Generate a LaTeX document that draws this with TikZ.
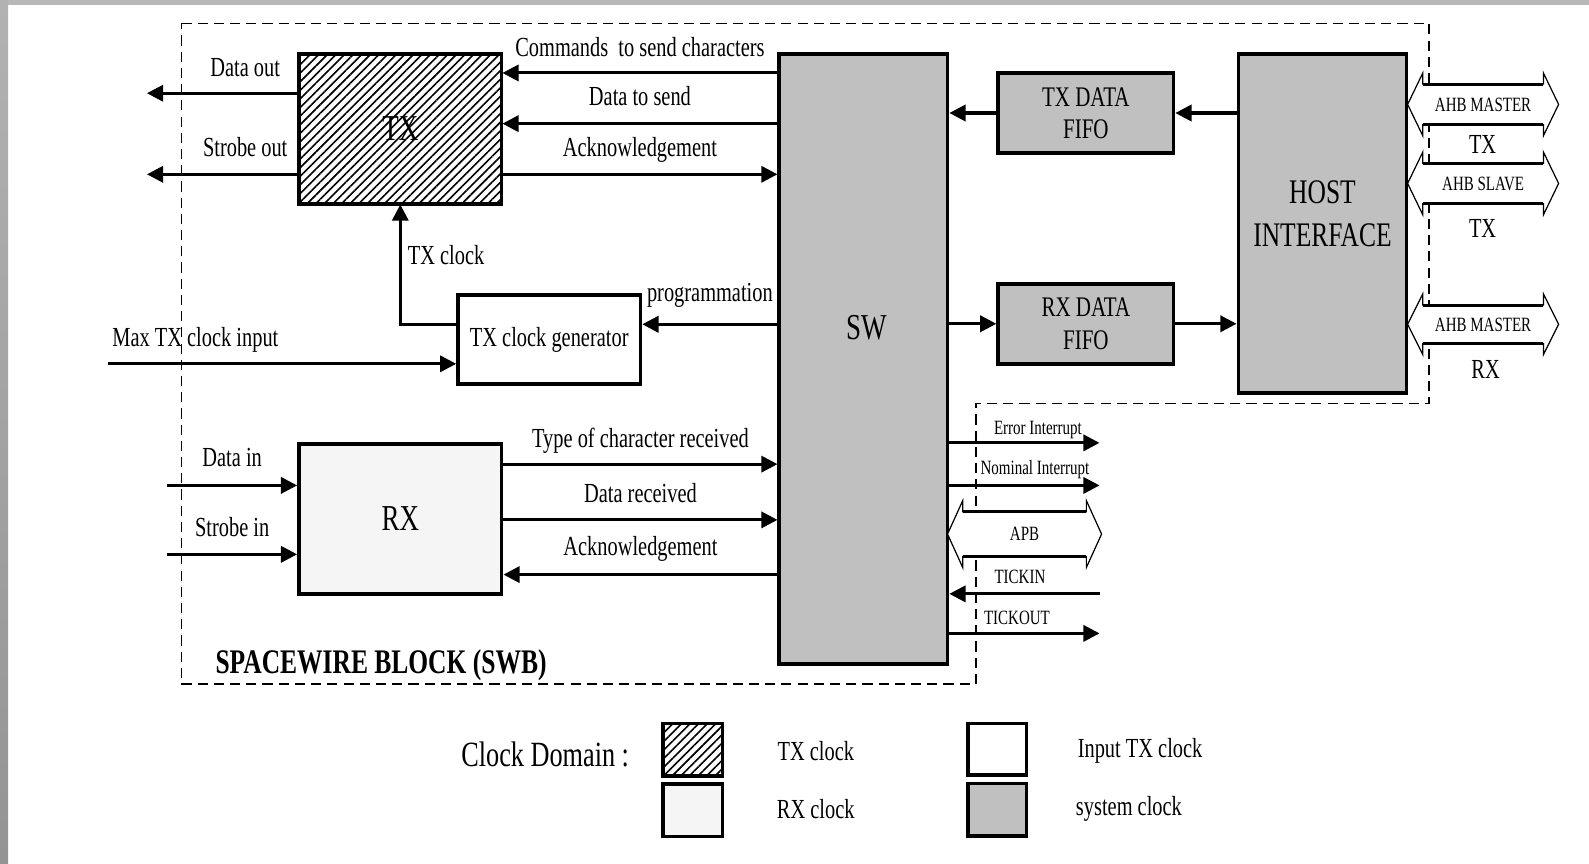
\documentclass[tikz,border=0pt]{standalone}
\usepackage{fontspec}
\setmainfont[FakeStretch=0.74]{Liberation Serif}
\usetikzlibrary{arrows.meta,positioning,patterns.meta}

\definecolor{sysgray}{RGB}{192,192,192}
\definecolor{framegray}{RGB}{184,184,184}

\begin{document}
\begin{tikzpicture}[x=0.5pt,y=-0.5pt,
  every node/.style={font=\fontsize{13.6}{16}\selectfont},
  blk/.style={draw,line width=1.8pt,inner sep=0pt},
  sysblk/.style={blk,fill=sysgray},
  txblk/.style={blk,pattern={Lines[angle=45,distance=3pt,line width=0.8pt]}},
  rxblk/.style={blk,fill=black!4},
  sig/.style={line width=1.5pt,-{Triangle[length=8pt,width=8pt]}},
  lbl/.style={inner sep=0pt,text depth=0pt},
  small/.style={lbl,font=\fontsize{10}{12}\selectfont},
  big/.style={font=\fontsize{18}{21}\selectfont},
  swb/.style={dash pattern=on 5pt off 3pt,line width=0.8pt},
  bus/.style={draw,line width=0.6pt,fill=white}]
  \useasboundingbox (0,0) rectangle (1568,852);
  \fill[framegray] (0,0) rectangle (1568,5);
  \shade[top color={rgb,255:red,178;green,178;blue,178},bottom color={rgb,255:red,148;green,148;blue,148}] (0,0) rectangle (8,852);

  % spacewire block outline
  \draw[swb] (179,23) -- (1410,23) -- (1410,398) -- (963,398) -- (963,675) -- (179,675) -- cycle;
  \node[font=\bfseries\fontsize{17}{20}\selectfont] (swbname) at (376,656) {SPACEWIRE BLOCK (SWB)};

  % blocks
  \node[txblk,big,minimum width=100pt,minimum height=74pt] (tx) at (395,127) {TX};
  \node[rxblk,big,minimum width=100pt,minimum height=74pt] (rx) at (395,512) {RX};
  \node[blk,fill=white,minimum width=90pt,minimum height=44pt] (gen) at (542,335) {TX clock generator};
  \node[sysblk,minimum width=83pt,minimum height=301pt] (sw) at (852,354) {};
  \node[big] (swtxt) at (855,323) {SW};
  \node[sysblk,align=center,font=\fontsize{14}{16}\selectfont,minimum width=86.5pt,minimum height=39.5pt] (txfifo) at (1071.5,111.5) {TX DATA\\FIFO};
  \node[sysblk,align=center,font=\fontsize{14}{16}\selectfont,minimum width=86.5pt,minimum height=39.5pt] (rxfifo) at (1071.5,319.5) {RX DATA\\FIFO};
  \node[sysblk,minimum width=83pt,minimum height=167.5pt] (host) at (1305,220.5) {};
  \node[align=center,font=\fontsize{17}{21}\selectfont] (hosttxt) at (1305,211) {HOST\\INTERFACE};

  % TX side
  \coordinate (dout) at (145,92);
  \coordinate (sout) at (145,172);
  \draw[sig] (tx.west |- dout) -- node[lbl,above=7.5pt,pos=0.35] (ldout) {Data out} (dout);
  \draw[sig] (tx.west |- sout) -- node[lbl,above=8pt,pos=0.35] (lsout) {Strobe out} (sout);
  \draw[sig] (sw.west |- 0,72) -- node[lbl,above=7.5pt] (lcmd) {Commands\ \ to send characters} (tx.east |- 0,72);
  \draw[sig] (sw.west |- 0,122) -- node[lbl,above=8pt] (lsend) {Data to send} (tx.east |- 0,122);
  \draw[sig] (tx.east |- 0,172) -- node[lbl,above=8pt] (lack) {Acknowledgement} (sw.west |- 0,172);
  \draw[sig] (gen.west |- 0,320) -| node[lbl,right=3pt,pos=0.79] (ltxclk) {TX clock} (tx.south);
  \draw[sig] (sw.west |- 0,320) -- node[lbl,above=10.5pt] (lprog) {programmation} (gen.east |- 0,320);
  \coordinate (maxin) at (107,359);
  \draw[sig] (maxin) -- node[lbl,above=8pt,pos=0.25] (lmax) {Max TX clock input} (gen.west |- maxin);

  % RX side
  \coordinate (din) at (165,479);
  \coordinate (sin) at (165,547);
  \draw[sig] (din) -- node[lbl,above=8.5pt] (ldin) {Data in} (rx.west |- din);
  \draw[sig] (sin) -- node[lbl,above=8pt] (lsin) {Strobe in} (rx.west |- sin);
  \draw[sig] (rx.east |- 0,458) -- node[lbl,above=7.5pt] (ltype) {Type of character received} (sw.west |- 0,458);
  \draw[sig] (rx.east |- 0,513) -- node[lbl,above=8pt] (lrecv) {Data received} (sw.west |- 0,513);
  \draw[sig] (sw.west |- 0,567) -- node[lbl,above=8.5pt] (lrxack) {Acknowledgement} (rx.east |- 0,567);

  % fifos
  \draw[sig] (txfifo.west) -- (sw.east |- txfifo.west);
  \draw[sig] (host.west |- txfifo.east) -- (txfifo.east);
  \draw[sig] (sw.east |- rxfifo.west) -- (rxfifo.west);
  \draw[sig] (rxfifo.east) -- (host.west |- rxfifo.east);

  % interrupts and ticks
  \coordinate (errout) at (1085,437);
  \coordinate (nomout) at (1085,479);
  \coordinate (tickin) at (1085,586);
  \coordinate (tickout) at (1085,625);
  \draw[sig] (sw.east |- errout) -- node[small,above=3.5pt,pos=0.59] (lerr) {Error Interrupt} (errout);
  \draw[sig] (sw.east |- nomout) -- node[small,above=4.5pt,pos=0.57] (lnom) {Nominal Interrupt} (nomout);
  \draw[sig] (tickin) -- node[small,above=4.5pt,pos=0.53] (ltin) {TICKIN} (sw.east |- tickin);
  \draw[sig] (sw.east |- tickout) -- node[small,above=3.5pt,pos=0.45] (ltout) {TICKOUT} (tickout);

  % buses
  \foreach \xa/\xb/\yc/\bw/\bname in {1389/1538/103/20/AHB MASTER,1389/1538/181/20/AHB SLAVE,1389/1538/320/19/AHB MASTER,935/1087/527/22/APB} {
    \draw[bus] (\xa,\yc) -- (\xa+15,\yc-\bw-11) -- (\xa+15,\yc-\bw) -- (\xb-15,\yc-\bw) -- (\xb-15,\yc-\bw-11) -- (\xb,\yc)
      -- (\xb-15,\yc+\bw+11) -- (\xb-15,\yc+\bw) -- (\xa+15,\yc+\bw) -- (\xa+15,\yc+\bw+11) -- cycle;
    \draw[line width=1.5pt] (\xa+15,\yc-\bw) -- (\xb-15,\yc-\bw) (\xa+15,\yc+\bw) -- (\xb-15,\yc+\bw);
    \node[small] (bus\yc) at ({(\xa+\xb)/2},\yc) {\bname};
  }
  \node (bustxa) at (1463,143) {TX};
  \node (bustxb) at (1463,225) {TX};
  \node (busrx) at (1466,365) {RX};

  % legend
  \node[font=\fontsize{17.5}{20}\selectfont] (cdom) at (538,744) {Clock Domain :};
  \node[txblk,minimum width=29.5pt,minimum height=26pt] (legtx) at (683.5,740) {};
  \node[rxblk,minimum width=29.5pt,minimum height=26pt] (legrx) at (683.5,799.5) {};
  \node[blk,fill=white,minimum width=29pt,minimum height=25.5pt] (legin) at (984,739.5) {};
  \node[sysblk,minimum width=29pt,minimum height=26pt] (legsys) at (984,799) {};
  \node (ltxd) at (805,741) {TX clock};
  \node (lrxd) at (805,798) {RX clock};
  \node (lind) at (1125,741) {Input TX clock};
  \node (lsysd) at (1114,798) {system clock};
\end{tikzpicture}
\end{document}
